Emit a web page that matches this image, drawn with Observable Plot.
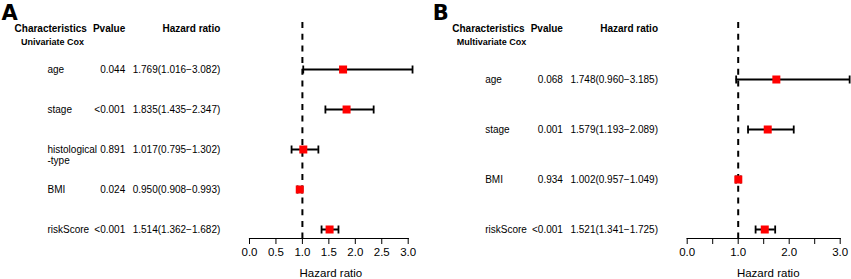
<!DOCTYPE html>
<html>
<head>
<meta charset="utf-8">
<script src="https://cdn.jsdelivr.net/npm/d3@7"></script>
<script src="https://cdn.jsdelivr.net/npm/@observablehq/plot@0.6"></script>
<style>
  body { margin: 0; background: #fff; }
  #wrap { position: relative; width: 851px; height: 279px; overflow: hidden; background: #fff; }
  #wrap > svg { position: absolute; top: 0; }
</style>
</head>
<body>
<div id="wrap"></div>
<script>
// ---- Data: panel A (univariate Cox) ----
const uniNames  = ["age", "stage", "histological\n-type", "BMI", "riskScore"];
const uniPvalue = ["0.044", "<0.001", "0.891", "0.024", "<0.001"];
const uniHR     = [1.769, 1.835, 1.017, 0.950, 1.514];
const uniLow    = [1.016, 1.435, 0.795, 0.908, 1.362];
const uniHigh   = [3.082, 2.347, 1.302, 0.993, 1.682];

// ---- Data: panel B (multivariate Cox) ----
const multiNames  = ["age", "stage", "BMI", "riskScore"];
const multiPvalue = ["0.068", "0.001", "0.934", "<0.001"];
const multiHR     = [1.748, 1.579, 1.002, 1.521];
const multiLow    = [0.960, 1.193, 0.957, 1.341];
const multiHigh   = [3.185, 2.089, 1.049, 1.725];

// ---- Tick labels ----
const xTicks = [0, 0.5, 1, 1.5, 2, 2.5, 3];
const xTicksLabeledA = [0, 0.5, 1, 1.5, 2, 2.5, 3];
const xTicksLabeledB = [0, 1, 2, 3];

const headerChar = "Characteristics";
const headerP = "Pvalue";
const headerHR = "Hazard ratio";
const axisTitle = "Hazard ratio";

const FONT = "'Liberation Sans', Arial, Helvetica, sans-serif";
const fmt3 = d3.format(".3f");
const fmt1 = d3.format(".1f");

const capSymbol = {
  draw(ctx, size) {
    const h = Math.sqrt(size / Math.PI);
    ctx.moveTo(0, -h);
    ctx.lineTo(0, h);
  }
};
const squareSymbol = {
  draw(ctx, size) {
    const h = Math.sqrt(size / Math.PI);
    ctx.rect(-h, -h, 2 * h, 2 * h);
  }
};

function panel(cfg) {
  const rows = cfg.names.map((name, i) => ({
    name,
    p: cfg.pvalue[i],
    hr: cfg.hr[i],
    low: cfg.low[i],
    high: cfg.high[i],
    label: fmt3(cfg.hr[i]) + "(" + fmt3(cfg.low[i]) + "\u2212" + fmt3(cfg.high[i]) + ")"
  }));
  const labeled = new Set(cfg.labeled);
  return Plot.plot({
    width: cfg.width,
    height: 279,
    marginLeft: cfg.marginLeft,
    marginRight: cfg.marginRight,
    marginTop: 22,
    marginBottom: 41,
    x: {domain: [0, 3]},
    y: {type: "point", domain: cfg.names, range: cfg.yRange, padding: 0, axis: null},
    style: {fontFamily: FONT, color: "#000", background: "#fff", overflow: "visible"},
    marks: [
      Plot.ruleX([1], {stroke: "#000", strokeWidth: 2, strokeDasharray: "6,5.7"}),
      Plot.frame({anchor: "bottom", stroke: "#000", strokeWidth: 1.2}),
      Plot.axisX(xTicks, {
        anchor: "bottom", tickSize: 6, tickPadding: 3, fontSize: 11.5,
        tickFormat: (d) => labeled.has(d) ? fmt1(d) : "", label: null, stroke: "#000"
      }),
      Plot.text([axisTitle], {text: (d) => d, frameAnchor: "bottom", dx: cfg.titleDx, dy: 34.5, lineAnchor: "middle", fontSize: 11.5}),
      // panel tag
      Plot.text([cfg.tag], {text: (d) => d, frameAnchor: "top-left", dx: cfg.tagDx, dy: -17.5, lineAnchor: "top", textAnchor: "start", fontSize: 21, fontWeight: "bold", fontFamily: "'DejaVu Sans', sans-serif"}),
      // headers
      Plot.text([headerChar], {text: (d) => d, frameAnchor: "top-left", dx: -198.8, dy: 6.4, lineAnchor: "middle", textAnchor: "middle", fontSize: 10, fontWeight: "bold"}),
      Plot.text([cfg.sub], {text: (d) => d, frameAnchor: "top-left", dx: cfg.subDx, dy: 20, lineAnchor: "middle", textAnchor: "middle", fontSize: 9, fontWeight: "bold"}),
      Plot.text([headerP], {text: (d) => d, frameAnchor: "top-left", dx: -124.3, dy: 6.4, lineAnchor: "middle", textAnchor: "end", fontSize: 10, fontWeight: "bold"}),
      Plot.text([headerHR], {text: (d) => d, frameAnchor: "top-left", dx: -29.2, dy: 6.4, lineAnchor: "middle", textAnchor: "end", fontSize: 10, fontWeight: "bold"}),
      // table rows
      Plot.text(rows, {y: "name", text: "name", frameAnchor: "left", dx: -202, dy: -3.6, lineAnchor: "top", textAnchor: "start", fontSize: 10, lineHeight: 1.03}),
      Plot.text(rows, {y: "name", text: "p", frameAnchor: "left", dx: -124.3, textAnchor: "end", fontSize: 10}),
      Plot.text(rows, {y: "name", text: "label", frameAnchor: "left", dx: -29.2, textAnchor: "end", fontSize: 10}),
      // forest
      Plot.ruleY(rows, {y: "name", x1: "low", x2: "high", stroke: "#000", strokeWidth: 2}),
      Plot.dot(rows, {y: "name", x: "low", symbol: capSymbol, r: 4, stroke: "#000", fill: "none", strokeWidth: 1.8}),
      Plot.dot(rows, {y: "name", x: "high", symbol: capSymbol, r: 4, stroke: "#000", fill: "none", strokeWidth: 1.8}),
      Plot.dot(rows, {y: "name", x: "hr", symbol: squareSymbol, r: 4, fill: "#ff0000", stroke: "none"})
    ]
  });
}

const wrap = document.getElementById("wrap");

const svgA = panel({
  names: uniNames, pvalue: uniPvalue, hr: uniHR, low: uniLow, high: uniHigh,
  tag: "A", sub: "Univariate Cox", labeled: xTicksLabeledA,
  width: 430, marginLeft: 249, marginRight: 22.3, yRange: [68, 229.3],
  tagDx: -248, titleDx: 2, subDx: -197
});
svgA.style.left = "0px";
wrap.appendChild(svgA);

const svgB = panel({
  names: multiNames, pvalue: multiPvalue, hr: multiHR, low: multiLow, high: multiHigh,
  tag: "B", sub: "Multivariate Cox", labeled: xTicksLabeledB,
  width: 421, marginLeft: 256.7, marginRight: 11.3, yRange: [79, 229.3],
  tagDx: -254.5, titleDx: 4.5, subDx: -195.7
});
svgB.style.left = "430px";
wrap.appendChild(svgB);
</script>
</body>
</html>
